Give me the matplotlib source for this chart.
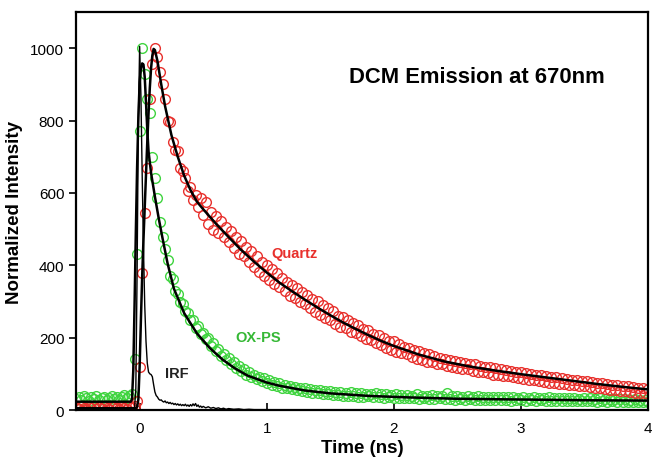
import numpy as np
import matplotlib
matplotlib.use("Agg")
import matplotlib.pyplot as plt

plt.rcParams['font.family'] = ['Liberation Sans', 'DejaVu Sans']

# time grid of the measured decays (ns)
t_start = -0.5
channel_width = 0.02

# Quartz decay (red circles), one value per channel
quartz_counts = [
    8, 3, 10, 5, 2, 9, 6, 12, 4, 7, 3, 10, 6, 2, 8, 11, 5, 3, 9, 6, 4, 10, 7, 12,
    25, 120, 380, 545, 670, 860,
    955, 1000, 975, 935, 900, 860, 800, 795, 740, 720,
    715, 668, 660, 640, 605, 615, 580, 595, 560, 585,
    540, 575, 515, 548, 498, 535, 490, 522, 478, 505,
    465, 495, 448, 478, 432, 468, 425, 450, 408, 440,
    395, 425, 382, 410, 370, 402, 360, 390, 348, 378,
    340, 365, 328, 355, 315, 345, 310, 338, 298, 325,
    292, 318, 282, 308, 270, 300, 262, 290, 255, 282,
    250, 274, 238, 260, 230, 256, 228, 250, 216, 240,
    212, 234, 204, 224, 196, 222, 194, 210, 184, 207,
    180, 200, 171, 192, 166, 190, 161, 182, 158, 174,
    156, 172, 146, 167, 142, 164, 138, 157, 134, 154,
    133, 150, 128, 145, 126, 142, 123, 138, 118, 136,
    116, 134, 113, 130, 112, 128, 108, 126, 106, 122,
    104, 120, 101, 118, 98, 116, 96, 114, 94, 110,
    93, 108, 90, 106, 88, 104, 86, 102, 84, 99,
    82, 98, 80, 96, 78, 94, 76, 92, 75, 90,
    73, 88, 71, 86, 70, 84, 68, 82, 66, 80,
    65, 79, 63, 77, 61, 75, 60, 74, 58, 72,
    56, 70, 55, 68, 53, 67, 52, 65, 50, 64,
    48, 62, 47, 60, 46, 58,
]

# OX-PS decay (green circles)
oxps_counts = [
    30, 35, 28, 38, 33, 26, 36, 31, 40, 29, 34, 37, 27, 33, 39, 30, 35, 28, 36, 41, 32, 38, 45,
    140, 430, 770, 1000, 930, 860, 820, 700, 640, 585, 520, 478,
    445, 415, 370, 362, 330, 322, 298, 292, 275, 268,
    250, 248, 228, 232, 210, 212, 195, 198, 178, 185,
    162, 168, 150, 156, 138, 145, 128, 132, 115, 122,
    108, 112, 98, 105, 92, 98, 85, 92, 80, 88,
    75,
    82, 70, 78, 65, 74, 62, 70, 60, 66, 57,
    64, 55, 62, 52, 60, 50, 58, 48, 56, 47,
    55, 45, 53, 44, 52, 42, 50, 41, 49, 40,
    48, 39, 50, 38, 46, 37, 47, 36, 45, 38,
    44, 35, 46, 36, 43, 34, 44, 35, 42, 33,
    43, 34, 41, 33, 42, 32, 40, 33, 44, 31,
    40, 32, 39, 30, 41, 31, 38, 32, 40, 30,
    46, 31, 38, 29, 39, 30, 37, 29, 38, 30,
    36, 28, 39, 29, 36, 28, 37, 27, 35, 29,
    37, 27, 35, 28, 36, 26, 35, 28, 34, 27,
    36, 26, 34, 27, 35, 25, 33, 27, 34, 26,
    35, 25, 33, 26, 32, 24, 34, 26, 32, 25,
    33, 24, 31, 25, 33, 24, 32, 25, 31, 23,
    32, 24, 30, 23, 31, 24, 30, 22, 31, 23,
    30, 22, 29, 23, 30, 21, 29, 22, 28, 21,
]

# fitted curves (black lines)
quartz_fit_t = [-0.5, -0.03, -0.02, -0.01, 0.0, 0.01, 0.02, 0.03, 0.04, 0.05, 0.06, 0.07, 0.08, 0.09, 0.10,
                0.11, 0.12, 0.14, 0.17, 0.20, 0.25, 0.30, 0.35, 0.40, 0.45, 0.50, 0.60, 0.70, 0.80, 0.90,
                1.00, 1.10, 1.20, 1.30, 1.40, 1.50, 1.60, 1.70, 1.80, 1.90, 2.00, 2.20, 2.40, 2.60, 2.80,
                3.00, 3.20, 3.40, 3.60, 3.80, 4.00]
quartz_fit_v = [5, 5, 8, 30, 120, 250, 370, 470, 560, 650, 740, 820, 890, 945, 980,
                998, 995, 965, 900, 840, 760, 700, 648, 608, 576, 555, 515, 478, 442, 410,
                380, 352, 328, 305, 283, 262, 242, 224, 207, 191, 177, 153, 134, 120, 109,
                99, 90, 81, 72, 64, 57]

oxps_fit_t = [-0.5, -0.07, -0.06, -0.05, -0.04, -0.03, -0.02, -0.01, 0.0, 0.01, 0.02, 0.03, 0.04, 0.05,
              0.06, 0.07, 0.09, 0.12, 0.15, 0.18, 0.22, 0.27, 0.35, 0.45, 0.55, 0.65, 0.75, 0.85,
              1.00, 1.10, 1.30, 1.50, 1.80, 2.10, 2.50, 3.00, 3.50, 4.00]
oxps_fit_v = [23, 23, 30, 110, 290, 490, 670, 810, 905, 945, 958, 955, 920, 850,
              775, 715, 655, 590, 530, 475, 405, 335, 268, 212, 172, 140, 115, 95,
              76, 67, 54, 46, 39, 35, 31, 29, 27, 26]

# instrument response function (thin black line)
irf_t = [-0.5, -0.05, -0.04, -0.03, -0.02, -0.01,
         0.00, 0.01, 0.02, 0.03, 0.04, 0.05, 0.06, 0.07, 0.08, 0.09,
         0.10, 0.11, 0.12, 0.13, 0.14, 0.15, 0.16, 0.17, 0.18, 0.19,
         0.20, 0.21, 0.22, 0.23, 0.24, 0.25, 0.26, 0.27, 0.28, 0.29,
         0.30, 0.31, 0.32, 0.33, 0.34, 0.35, 0.36, 0.37, 0.38, 0.39,
         0.40, 0.41, 0.42, 0.43, 0.44, 0.45, 0.46, 0.47, 0.48, 0.49, 0.50,
         0.52, 0.54, 0.56, 0.58, 0.60, 0.62, 0.64, 0.66, 0.68, 0.70,
         0.74, 0.78, 0.82, 0.86, 0.90, 1.00, 1.20, 4.00]
irf_v = [0, 0, 5, 60, 380, 800,
         1005, 870, 650, 450, 290, 190, 130, 105, 100, 98,
         92, 70, 50, 40, 36, 30, 27, 28, 24, 22,
         25, 20, 22, 18, 21, 17, 19, 15, 18, 14,
         17, 13, 16, 12, 15, 12, 16, 11, 14, 10,
         15, 11, 17, 12, 18, 10, 14, 8, 11, 7, 10,
         6, 9, 5, 7, 4, 6, 3, 5, 2, 4,
         2, 3, 1, 2, 1, 1, 0, 0]

red = '#e8302c'
green = '#3fd43f'

t_data = np.round(t_start + channel_width * np.arange(len(quartz_counts)), 3)

fig = plt.figure(figsize=(6.56, 4.6), dpi=100)
ax = fig.add_axes([0.116, 0.1065, 0.8718, 0.8652])

ax.plot(t_data, oxps_counts, ls='none', marker='o', ms=7, mfc='none', mec=green, mew=1.0)
ax.plot(t_data, quartz_counts, ls='none', marker='o', ms=7, mfc='none', mec=red, mew=1.0)
ax.plot(irf_t, irf_v, color='black', lw=1.0)
ax.plot(oxps_fit_t, oxps_fit_v, color='black', lw=1.8)
ax.plot(quartz_fit_t, quartz_fit_v, color='black', lw=1.8)

ax.set_xlim(-0.5, 4.0)
ax.set_ylim(0, 1100)
ax.set_xticks([0, 1, 2, 3, 4])
ax.set_yticks([0, 200, 400, 600, 800, 1000])
ax.tick_params(axis='x', direction='in', length=5, width=1.2, labelsize=11, pad=8)
ax.tick_params(axis='y', direction='out', length=5, width=1.2, labelsize=11)
for s in ax.spines.values():
    s.set_linewidth(1.6)

ax.set_xlabel('Time (ns)', fontsize=13.5, fontweight='bold', labelpad=3)
ax.set_ylabel('Normalized Intensity', fontsize=13.5, fontweight='bold', labelpad=5)

ax.text(2.65, 907, 'DCM Emission at 670nm', fontsize=15.8, fontweight='bold', ha='center', va='baseline')
ax.text(1.22, 435, 'Quartz', color=red, fontsize=10.5, fontweight='bold', ha='center', va='center')
ax.text(0.93, 203, 'OX-PS', color='#35b835', fontsize=10.5, fontweight='bold', ha='center', va='center')
ax.text(0.29, 102, 'IRF', color='#222222', fontsize=10.5, fontweight='bold', ha='center', va='center')

fig.savefig('out.png', dpi=100)
